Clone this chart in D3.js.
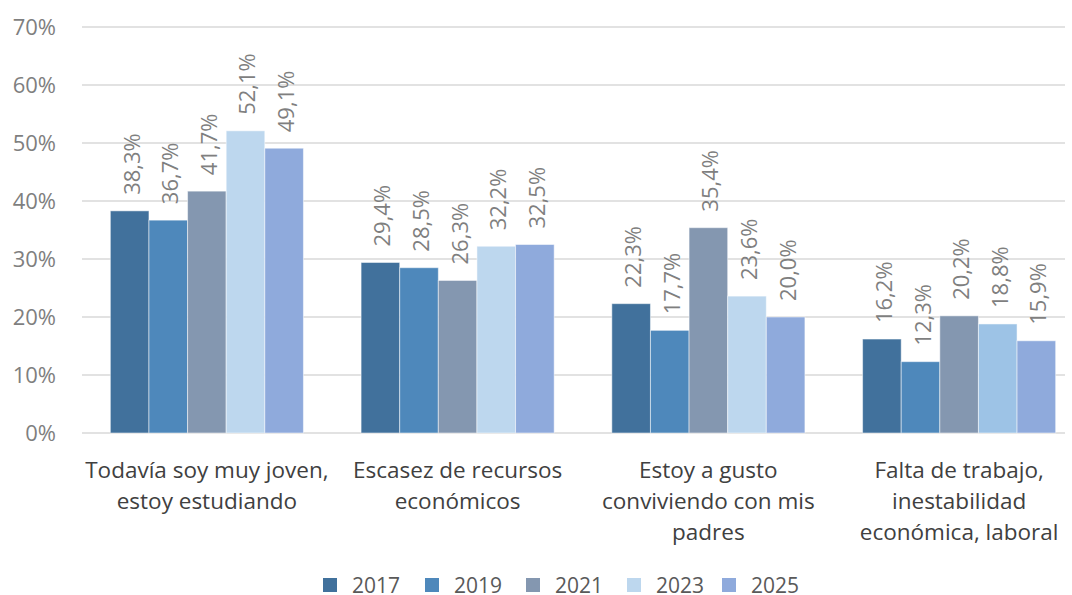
<!DOCTYPE html>
<html lang="es">
<head>
<meta charset="UTF-8"/>
<title>chart</title>
<script src="https://d3js.org/d3.v7.min.js"></script>
<style>
  body { margin: 0; background: #fff; }
  text { font-family: "Open Sans", "Noto Sans", sans-serif; }
</style>
</head>
<body>
<div id="chart"></div>
<script>
// data
var categories = [
  ["Todavía soy muy joven,", "estoy estudiando"],
  ["Escasez de recursos", "económicos"],
  ["Estoy a gusto", "conviviendo con mis", "padres"],
  ["Falta de trabajo,", "inestabilidad", "económica, laboral"]
];
var years = ["2017", "2019", "2021", "2023", "2025"];
var v2017 = [38.3, 29.4, 22.3, 16.2];
var v2019 = [36.7, 28.5, 17.7, 12.3];
var v2021 = [41.7, 26.3, 35.4, 20.2];
var v2023 = [52.1, 32.2, 23.6, 18.8];
var v2025 = [49.1, 32.5, 20.0, 15.9];
var yTicks = [0, 10, 20, 30, 40, 50, 60, 70];

var series = [v2017, v2019, v2021, v2023, v2025];
var colors = ["#41719c", "#4e88bb", "#8497b0", "#bdd7ee", "#8faadc"];

var W = 1072, H = 595;
var margin = {left: 82, right: 7, top: 27, bottom: 162};
var w = W - margin.left - margin.right, h = H - margin.top - margin.bottom;

var svg = d3.select("#chart").append("svg").attr("width", W).attr("height", H);
var g = svg.append("g").attr("transform", "translate(" + margin.left + "," + margin.top + ")");

// groups are spaced a bit wider than the grid
var x0 = d3.scaleBand().domain(d3.range(categories.length)).range([-0.5, 1002.5]).paddingInner(0.23).paddingOuter(0.115);
var x1 = d3.scaleBand().domain(years).range([0, x0.bandwidth()]);
var y = d3.scaleLinear().domain([0, 70]).range([h, 0]);

// grid
g.selectAll(".grid").data(yTicks).enter().append("line")
  .attr("x1", 0).attr("x2", w)
  .attr("y1", function(d) { return y(d); }).attr("y2", function(d) { return y(d); })
  .attr("stroke", "#d9d9d9").attr("stroke-width", 1.3);

// y labels
g.selectAll(".ylab").data(yTicks).enter().append("text")
  .attr("x", -26).attr("y", function(d) { return y(d); }).attr("dy", "0.35em")
  .attr("text-anchor", "end").attr("fill", "#7f7f7f").style("font-size", "22px")
  .text(function(d) { return d + "%"; });

// bars
years.forEach(function(yr, si) {
  var vals = series[si];
  var grp = g.append("g");
  grp.selectAll("rect").data(vals).enter().append("rect")
    .attr("x", function(d, i) { return x0(i) + x1(yr); })
    .attr("y", function(d) { return y(d); })
    .attr("width", x1.bandwidth())
    .attr("height", function(d) { return h - y(d); })
    .attr("fill", function(d, i) { return (si === 3 && i === 3) ? "#9dc3e6" : colors[si]; })
    .attr("stroke", "#ffffff").attr("stroke-opacity", 0.5).attr("stroke-width", 1);
  grp.selectAll("text").data(vals).enter().append("text")
    .attr("transform", function(d, i) {
      return "translate(" + (x0(i) + x1(yr) + x1.bandwidth() / 2 + 10) + "," + (y(d) - 16) + ") rotate(-90)";
    })
    .attr("fill", "#7f7f7f").style("font-size", "22px")
    .text(function(d) { return d.toFixed(1).replace(".", ",") + "%"; });
});

// category labels
categories.forEach(function(lines, i) {
  var t = g.append("text").attr("text-anchor", "middle").attr("fill", "#404040").style("font-size", "22.5px");
  lines.forEach(function(l, k) {
    t.append("tspan").attr("x", x0(i) + x0.bandwidth() / 2).attr("y", h + 45 + k * 31).text(l);
  });
});

// legend
var leg = svg.append("g");
var legX = [323, 425, 526, 627, 722];
years.forEach(function(yr, i) {
  leg.append("rect").attr("x", legX[i]).attr("y", 578).attr("width", 14).attr("height", 14).attr("fill", colors[i]);
  leg.append("text").attr("x", legX[i] + 29).attr("y", 593).attr("fill", "#595959").style("font-size", "21px").text(yr);
});
</script>
</body>
</html>
